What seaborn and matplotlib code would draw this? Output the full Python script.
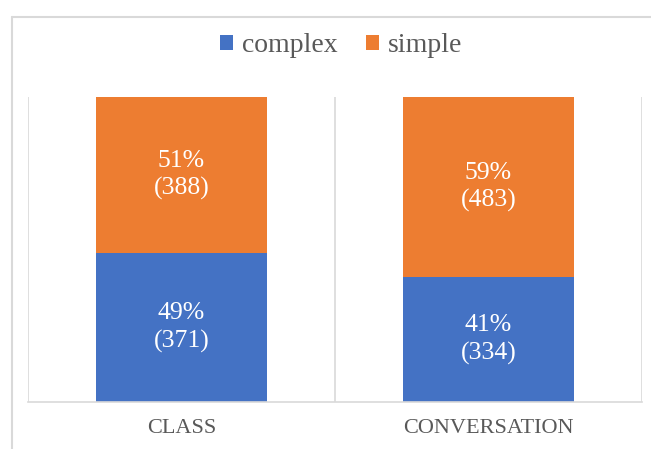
import matplotlib
matplotlib.use("Agg")
import matplotlib.pyplot as plt
from matplotlib.lines import Line2D
from matplotlib.patches import Patch
import seaborn as sns
import pandas as pd

categories = ["CLASS", "CONVERSATION"]
complex_counts = [371, 334]
simple_counts = [388, 483]
complex_pct = [49, 41]
simple_pct = [51, 59]
series_names = ["complex", "simple"]

BLUE = "#4472C4"
ORANGE = "#ED7D31"
GRID = "#D9D9D9"
TEXT = "#595959"

sns.set_style("white")
plt.rcParams["font.family"] = ["Liberation Serif", "DejaVu Serif"]

totals = [c + s for c, s in zip(complex_counts, simple_counts)]
df = pd.DataFrame({
    "category": categories,
    "complex_share": [c / t for c, t in zip(complex_counts, totals)],
    "full": [(c + s) / t for c, s, t in zip(complex_counts, simple_counts, totals)],
})

W, H = 651, 449
fig = plt.figure(figsize=(W / 100, H / 100), dpi=100)
ax = fig.add_axes([28 / W, (H - 402) / H, 614 / W, 305 / H])

sns.barplot(data=df, x="category", y="full", color=ORANGE, saturation=1,
            width=0.556, ax=ax, linewidth=0)
sns.barplot(data=df, x="category", y="complex_share", color=BLUE, saturation=1,
            width=0.556, ax=ax, linewidth=0)

ax.set_xlim(-0.5, 1.5)
ax.set_ylim(0, 1)
ax.set_xlabel("")
ax.set_ylabel("")
ax.set_yticks([])
for s in ["top", "left", "right"]:
    ax.spines[s].set_visible(False)
ax.spines["bottom"].set_color(GRID)
ax.spines["bottom"].set_linewidth(1.2)
for xv in [-0.5, 0.5, 1.5]:
    ax.axvline(xv, color=GRID, lw=1.2, zorder=0)

ax.tick_params(axis="x", length=0, pad=12, labelsize=16, labelcolor=TEXT)

for i in range(len(categories)):
    cs = df["complex_share"][i]
    ax.text(i, cs / 2, f"{complex_pct[i]}%\n({complex_counts[i]})", ha="center",
            va="center", color="white", fontsize=18.5, linespacing=1.3)
    ax.text(i, cs + (1 - cs) / 2, f"{simple_pct[i]}%\n({simple_counts[i]})", ha="center",
            va="center", color="white", fontsize=18.5, linespacing=1.3)

handles = [Patch(facecolor=BLUE, edgecolor="none"), Patch(facecolor=ORANGE, edgecolor="none")]
fig.legend(handles, series_names, loc="center", bbox_to_anchor=(341 / W, 1 - 46 / H),
           ncol=2, frameon=False, fontsize=20, labelcolor=TEXT,
           handlelength=0.47, handleheight=0.47, handletextpad=0.32, columnspacing=1.0,
           borderpad=0, borderaxespad=0)

# outer chart frame (cropped)
fig.add_artist(Line2D([12 / W, 12 / W], [0, 1 - 17 / H], color=GRID, lw=1.5,
                      transform=fig.transFigure))
fig.add_artist(Line2D([12 / W, 1], [1 - 17 / H, 1 - 17 / H], color=GRID, lw=1.5,
                      transform=fig.transFigure))

fig.savefig("out.png", dpi=100, facecolor="white")
